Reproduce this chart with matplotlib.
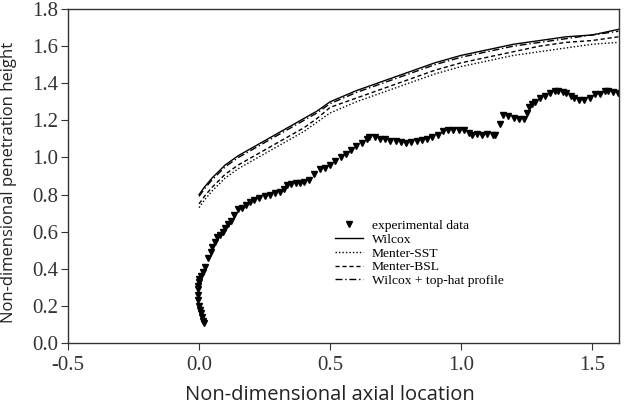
import numpy as np
import matplotlib.pyplot as plt

# model curves
x_mod = [0.0, 0.02, 0.05, 0.1, 0.15, 0.2, 0.25, 0.3, 0.35, 0.4, 0.45, 0.5,
         0.6, 0.7, 0.8, 0.9, 1.0, 1.1, 1.2, 1.3, 1.4, 1.5, 1.6]
y_wil = [0.80, 0.84, 0.89, 0.96, 1.01, 1.05, 1.09, 1.13, 1.17, 1.21, 1.25, 1.30,
         1.36, 1.41, 1.46, 1.51, 1.55, 1.58, 1.61, 1.63, 1.65, 1.66, 1.69]
y_top = [0.79, 0.83, 0.88, 0.95, 1.00, 1.04, 1.08, 1.12, 1.16, 1.20, 1.24, 1.29,
         1.35, 1.40, 1.45, 1.50, 1.54, 1.57, 1.60, 1.62, 1.64, 1.66, 1.68]
y_bsl = [0.75, 0.79, 0.84, 0.91, 0.96, 1.00, 1.04, 1.08, 1.12, 1.16, 1.21, 1.27,
         1.32, 1.37, 1.42, 1.47, 1.51, 1.54, 1.57, 1.60, 1.62, 1.63, 1.65]
y_sst = [0.73, 0.77, 0.82, 0.89, 0.94, 0.98, 1.02, 1.06, 1.10, 1.14, 1.19, 1.24,
         1.30, 1.35, 1.40, 1.45, 1.49, 1.52, 1.55, 1.57, 1.59, 1.61, 1.62]

# experimental data
x_exp = [0.02, 0.015, 0.012, 0.008, 0.004, 0.0, -0.003, -0.005, -0.005, -0.004,
         -0.002, 0.0, 0.006, 0.015, 0.023, 0.035, 0.045, 0.05, 0.06, 0.07, 0.08,
         0.09, 0.1, 0.11, 0.12, 0.135, 0.15, 0.165, 0.18, 0.195, 0.21, 0.23,
         0.25, 0.27, 0.29, 0.31, 0.325, 0.335, 0.35, 0.37, 0.385, 0.40, 0.42,
         0.44, 0.46, 0.48, 0.50, 0.52, 0.54, 0.56, 0.58, 0.60, 0.62, 0.64, 0.65,
         0.67, 0.69, 0.71, 0.73, 0.75, 0.77, 0.79, 0.81, 0.83, 0.85, 0.87, 0.89,
         0.91, 0.93, 0.95, 0.97, 0.99, 1.01, 1.03, 1.04, 1.06, 1.08, 1.10, 1.12,
         1.13, 1.15, 1.16, 1.18, 1.20, 1.22, 1.24, 1.25, 1.26, 1.27, 1.28, 1.30,
         1.32, 1.34, 1.36, 1.37, 1.39, 1.40, 1.42, 1.43, 1.45, 1.47, 1.49, 1.51,
         1.53, 1.55, 1.56, 1.58, 1.60]
y_exp = [0.11, 0.12, 0.14, 0.16, 0.18, 0.20, 0.23, 0.26, 0.29, 0.31,
         0.33, 0.345, 0.36, 0.385, 0.41, 0.46, 0.49, 0.52, 0.545, 0.57, 0.585,
         0.60, 0.62, 0.64, 0.66, 0.69, 0.72, 0.73, 0.745, 0.76, 0.77, 0.78,
         0.79, 0.80, 0.81, 0.815, 0.83, 0.85, 0.855, 0.86, 0.86, 0.87, 0.88,
         0.91, 0.94, 0.945, 0.96, 0.98, 1.0, 1.02, 1.04, 1.06, 1.08, 1.10, 1.11,
         1.11, 1.10, 1.10, 1.09, 1.09, 1.085, 1.08, 1.085, 1.09, 1.095, 1.10, 1.11,
         1.12, 1.14, 1.15, 1.15, 1.15, 1.15, 1.13, 1.12, 1.125, 1.12, 1.125, 1.12,
         1.12, 1.18, 1.23, 1.225, 1.215, 1.21, 1.21, 1.24, 1.27, 1.29, 1.30, 1.32,
         1.33, 1.35, 1.36, 1.36, 1.355, 1.35, 1.33, 1.32, 1.31, 1.31, 1.32, 1.34,
         1.34, 1.36, 1.36, 1.355, 1.35]

x_ticks = [-0.5, 0.0, 0.5, 1.0, 1.5]
y_ticks = [0.0, 0.2, 0.4, 0.6, 0.8, 1.0, 1.2, 1.4, 1.6, 1.8]

serif = "Liberation Serif"

fig = plt.figure(figsize=(6.27, 4.08), dpi=100)
ax = fig.add_axes([0.1085, 0.159, 0.879, 0.819])

ax.plot(x_exp, y_exp, linestyle="none", marker="v", color="black",
        markersize=4.3, label="experimental data")
ax.plot(x_mod, y_wil, color="black", linewidth=1.0, label="Wilcox")
ax.plot(x_mod, y_sst, color="black", linewidth=1.0, linestyle=(0, (1, 1.5)),
        label="Menter-SST")
ax.plot(x_mod, y_bsl, color="black", linewidth=1.0, linestyle=(0, (3, 2)),
        label="Menter-BSL")
ax.plot(x_mod, y_top, color="black", linewidth=1.0, linestyle=(0, (5, 2, 1, 2)),
        label="Wilcox + top-hat profile")

ax.set_xlim(-0.5, 1.603)
ax.set_ylim(0, 1.8)
ax.set_xticks(x_ticks)
ax.set_yticks(y_ticks)
ax.set_xticklabels([f"{v:.1f}" for v in x_ticks])
ax.set_yticklabels([f"{v:.1f}" for v in y_ticks])
for lab in ax.get_xticklabels() + ax.get_yticklabels():
    lab.set_fontfamily(serif)
    lab.set_fontsize(15)
    lab.set_color("#222222")
ax.tick_params(direction="out", length=5, width=0.8, colors="#333333", pad=2)
ax.tick_params(axis="x", pad=4)
for s in ax.spines.values():
    s.set_color("#333333")
    s.set_linewidth(1.0)

ax.set_xlabel("Non-dimensional axial location", fontfamily="Open Sans",
              fontsize=14.5, color="#222222")
ax.xaxis.set_label_coords(0.476, -0.125)
ax.set_ylabel("Non-dimensional penetration height", fontfamily="Open Sans",
              fontsize=12, color="#222222")
ax.yaxis.set_label_coords(-0.093, 0.48)

leg = ax.legend(loc="upper left", bbox_to_anchor=(0.472, 0.39), frameon=False,
                prop={"family": serif, "size": 9.7}, handlelength=2.1,
                handletextpad=0.65, labelspacing=0.1, borderpad=0)

fig.savefig("out.png", dpi=100)
